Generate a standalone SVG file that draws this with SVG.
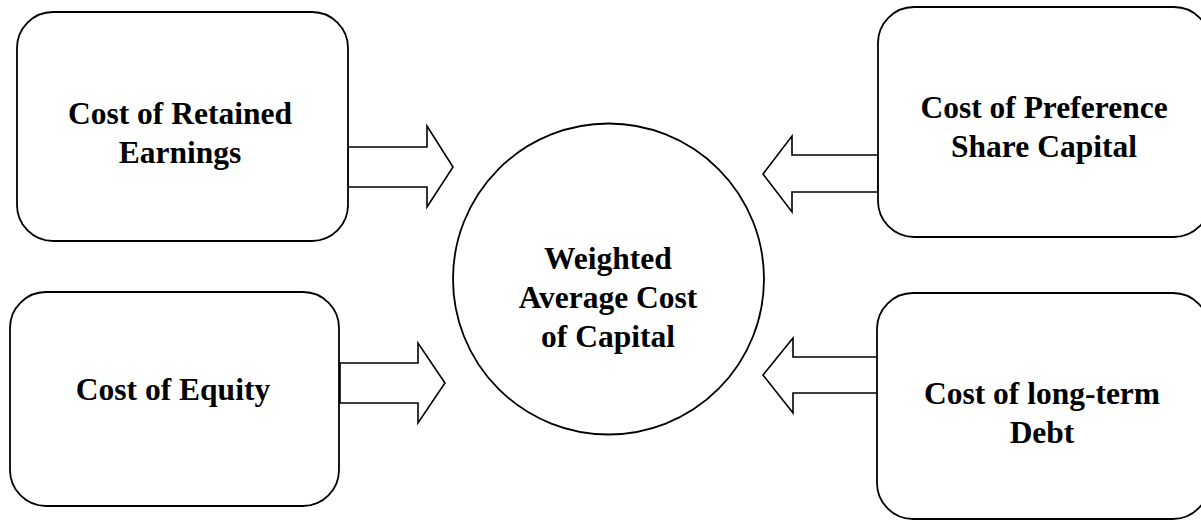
<svg xmlns="http://www.w3.org/2000/svg" width="1201" height="520" viewBox="0 0 1201 520">
<style>
.box{fill:#fff;stroke:#000;stroke-width:1.8}
.arrow{fill:#fff;stroke:#000;stroke-width:1.6;stroke-linejoin:miter}
.lbl{font-family:"Liberation Serif","Times New Roman",serif;font-weight:bold;font-size:31.5px;fill:#000;text-anchor:middle}
</style>
<rect width="1201" height="520" fill="#fff"/>
<g id="connectors">
<polygon class="arrow" points="348,147 427,147 427,126 453,167 427,207 427,187 348,187"/>
<polygon class="arrow" points="878,155 792,155 792,136 763,174 792,212 792,192 878,192"/>
<polygon class="arrow" points="340,363 418,363 418,343 445,383 418,423 418,403 340,403"/>
<polygon class="arrow" points="878,357 793,357 793,338 763,375 793,413 793,393 878,393"/>
</g>
<g id="node-retained">
<rect class="box" x="17" y="12" width="331" height="229" rx="36" ry="36"/>
<text class="lbl" x="180" y="124">Cost of Retained</text>
<text class="lbl" x="180" y="163">Earnings</text>
</g>
<g id="node-preference">
<rect class="box" x="878" y="7" width="332" height="230" rx="36" ry="36"/>
<text class="lbl" x="1044" y="118">Cost of Preference</text>
<text class="lbl" x="1044" y="157">Share Capital</text>
</g>
<g id="node-equity">
<rect class="box" x="10" y="292" width="329" height="214" rx="36" ry="36"/>
<text class="lbl" x="173" y="400">Cost of Equity</text>
</g>
<g id="node-debt">
<rect class="box" x="877" y="293" width="332" height="226" rx="36" ry="36"/>
<text class="lbl" x="1042" y="404">Cost of long-term</text>
<text class="lbl" x="1042" y="443">Debt</text>
</g>
<g id="node-wacc">
<circle class="box" cx="608.5" cy="279" r="155.5"/>
<text class="lbl" x="608" y="269">Weighted</text>
<text class="lbl" x="608" y="308">Average Cost</text>
<text class="lbl" x="608" y="347">of Capital</text>
</g>
</svg>
